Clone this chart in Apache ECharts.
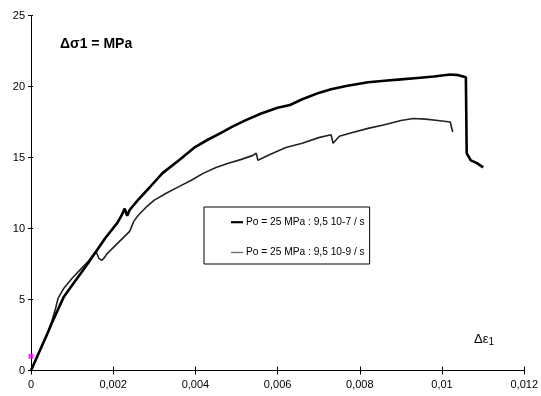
<!DOCTYPE html>
<html>
<head>
<meta charset="utf-8">
<script src="https://cdn.jsdelivr.net/npm/echarts@6/dist/echarts.min.js"></script>
<style>
html,body{margin:0;padding:0;background:#fff;}
#c{width:541px;height:396px;}
</style>
</head>
<body>
<div id="c"></div>
<script>
// ---- data ----
var seriesNames = ['Po = 25 MPa : 9,5 10-7 / s', 'Po = 25 MPa : 9,5 10-9 / s'];

var strain1 = [0, 0.0002, 0.0004, 0.0005, 0.0008, 0.0010, 0.0012, 0.0014, 0.0016, 0.0018, 0.0021, 0.0022, 0.00228, 0.00234, 0.0024, 0.0026, 0.0029, 0.0032, 0.0036, 0.0040, 0.0043, 0.0046, 0.0049, 0.0052, 0.0056, 0.0060, 0.0063, 0.0066, 0.0070, 0.0073, 0.0077, 0.0082, 0.0086, 0.0090, 0.0094, 0.0098, 0.0102, 0.0104, 0.01058, 0.01060, 0.01070, 0.01085, 0.01100];
var stress1 = [0, 1.3, 2.6, 3.3, 5.2, 6.0, 6.8, 7.6, 8.45, 9.3, 10.4, 10.9, 11.4, 10.9, 11.3, 12.0, 12.94, 13.9, 14.8, 15.75, 16.25, 16.7, 17.17, 17.6, 18.1, 18.5, 18.7, 19.1, 19.55, 19.8, 20.05, 20.3, 20.4, 20.5, 20.6, 20.7, 20.85, 20.8, 20.65, 15.3, 14.8, 14.6, 14.3];

var strain2 = [0, 0.0002, 0.0004, 0.0005, 0.0006, 0.00066, 0.0008, 0.0010, 0.0012, 0.0014, 0.0015, 0.00158, 0.00165, 0.00172, 0.0018, 0.00184, 0.0024, 0.0025, 0.0026, 0.0028, 0.0030, 0.0033, 0.0036, 0.0039, 0.0042, 0.0045, 0.0048, 0.0051, 0.0054, 0.00548, 0.00552, 0.0058, 0.0062, 0.0066, 0.0070, 0.0073, 0.00735, 0.0075, 0.0078, 0.0082, 0.0086, 0.0090, 0.0093, 0.0096, 0.0099, 0.0102, 0.01026];
var stress2 = [0, 1.3, 2.6, 3.4, 4.4, 5.1, 5.8, 6.5, 7.1, 7.7, 8.1, 8.4, 7.9, 7.75, 8.0, 8.2, 9.8, 10.5, 10.9, 11.5, 12.0, 12.5, 12.95, 13.4, 13.9, 14.3, 14.6, 14.85, 15.15, 15.3, 14.8, 15.2, 15.7, 16.0, 16.4, 16.6, 16.0, 16.5, 16.75, 17.05, 17.3, 17.6, 17.75, 17.7, 17.6, 17.5, 16.8];

var markerPoint = [[0, 1]];

var xTickLabels = ['0', '0,002', '0,004', '0,006', '0,008', '0,01', '0,012'];
var yTickLabels = ['0', '5', '10', '15', '20', '25'];

function pairs(xs, ys) { return xs.map(function (x, i) { return [x, ys[i]]; }); }

var chart = echarts.init(document.getElementById('c'), null, {renderer: 'canvas'});
var FONT = '"Liberation Sans", Arial, sans-serif';

var xBase = {
  type: 'value', min: 0, max: 0.012, interval: 0.002, gridIndex: 0, position: 'bottom',
  splitLine: {show: false}
};
var yBase = {
  type: 'value', min: 0, max: 25, interval: 5, gridIndex: 0, position: 'left',
  splitLine: {show: false}
};

chart.setOption({
  animation: false,
  backgroundColor: '#fff',
  grid: {left: 31, right: 16, top: 15.5, bottom: 25.5, containLabel: false},
  title: [
    {text: 'Δσ1 = MPa', left: 55, top: 32,
     textStyle: {fontFamily: FONT, fontSize: 14, fontWeight: 'bold', color: '#000'}},
    {text: 'Δε{s|1}', left: 469, top: 326,
     textStyle: {fontFamily: FONT, fontSize: 13, fontWeight: 'normal', color: '#000',
       rich: {s: {fontFamily: FONT, fontSize: 10, verticalAlign: 'bottom', padding: [6, 0, 0, 0], color: '#000'}}}}
  ],
  legend: {
    orient: 'vertical', left: 204, top: 207,
    padding: [10.2, 5, 6.5, 27], itemGap: 20.3, itemWidth: 12, itemHeight: 14,
    borderColor: '#000', borderWidth: 1, backgroundColor: '#fff',
    selectedMode: false,
    textStyle: {fontFamily: FONT, fontSize: 10.2, color: '#000', padding: [0, 0, 0, -2]},
    data: [
      {name: seriesNames[0], icon: 'path://M0,0L1,0L1,0.18L0,0.18Z', itemStyle: {color: '#000'}},
      {name: seriesNames[1], icon: 'path://M0,0L1,0L1,0.12L0,0.12Z', itemStyle: {color: '#777'}}
    ]
  },
  xAxis: [
    Object.assign({}, xBase, {
      axisLine: {show: true, lineStyle: {color: '#000', width: 1}},
      axisTick: {show: true, inside: false, length: 4, lineStyle: {color: '#000'}},
      axisLabel: {show: true, margin: 9, fontFamily: FONT, fontSize: 11, color: '#000',
        formatter: function (v) { return xTickLabels[Math.round(v / 0.002)]; }}
    }),
    Object.assign({}, xBase, {
      axisLine: {show: false},
      axisTick: {show: true, inside: true, length: 4, lineStyle: {color: '#000'}},
      axisLabel: {show: false}
    })
  ],
  yAxis: [
    Object.assign({}, yBase, {
      axisLine: {show: true, lineStyle: {color: '#000', width: 1}},
      axisTick: {show: true, inside: false, length: 3, lineStyle: {color: '#000'}},
      axisLabel: {show: true, margin: 6, fontFamily: FONT, fontSize: 11, color: '#000',
        formatter: function (v) { return yTickLabels[Math.round(v / 5)]; }}
    }),
    Object.assign({}, yBase, {
      axisLine: {show: false},
      axisTick: {show: true, inside: true, length: 2, lineStyle: {color: '#000'}},
      axisLabel: {show: false}
    })
  ],
  series: [
    {name: seriesNames[0], type: 'line', xAxisIndex: 0, yAxisIndex: 0, data: pairs(strain1, stress1),
     symbol: 'none', color: '#000', lineStyle: {color: '#000', width: 2.6}, z: 3},
    {name: seriesNames[1], type: 'line', xAxisIndex: 0, yAxisIndex: 0, data: pairs(strain2, stress2),
     symbol: 'none', color: '#777', lineStyle: {color: '#222', width: 1.6}, z: 2},
    {name: 'start', type: 'scatter', xAxisIndex: 0, yAxisIndex: 0, data: markerPoint,
     symbol: 'rect', symbolSize: 5, itemStyle: {color: '#ff00ff'}, z: 1}
  ]
});
</script>
</body>
</html>
